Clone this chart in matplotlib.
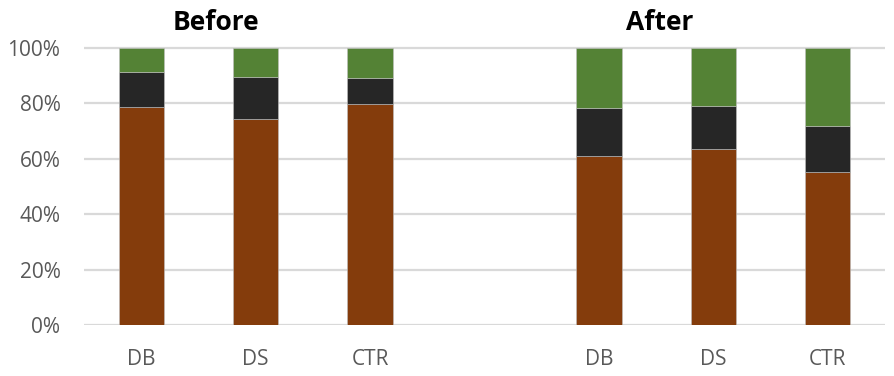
import matplotlib
matplotlib.use("Agg")
import matplotlib.pyplot as plt
import matplotlib.transforms as mtransforms
import numpy as np

categories = ["DB", "DS", "CTR", "", "DB", "DS", "CTR"]
# shares per bar (the empty slot is the gap between groups)
brown = [78.6, 74.3, 79.6, 0, 61.0, 63.4, 55.3]
black = [12.5, 15.3, 9.6, 0, 17.4, 15.7, 16.6]
green = [8.9, 10.4, 10.8, 0, 21.6, 20.9, 28.1]
group_titles = ["Before", "After"]
title_pos = [0.655, 4.53]

COL = ["#843C0C", "#262626", "#548235"]
GRAY = "#595959"

W, H = 895, 376
fig = plt.figure(figsize=(W / 100, H / 100), dpi=100)
pad = 2
ax = fig.add_axes([84 / W, 1 - 325.3 / H, (885 - 84) / W, (325.3 - 47.7 + pad) / H])

x = np.arange(len(categories))
bottom = np.zeros(len(categories))
for vals, c in zip([brown, black, green], COL):
    v = np.array(vals) / 100
    ax.bar(x, v, 0.396, bottom=bottom, color=c, edgecolor="#bfbfbf", linewidth=0.4, zorder=3)
    bottom += v

ax.set_xlim(-0.5, len(categories) - 0.5)
ax.set_ylim(0, 1 + pad / 277.6)
yt = np.linspace(0, 1, 6)
ax.set_yticks(yt)
ax.set_yticklabels([f"{int(t*100)}%" for t in yt])
for t in yt:
    ax.axhline(t, color="#d9d9d9", lw=1.6, zorder=1)
ax.set_xticks(x)
ax.set_xticklabels(categories)
for s in ax.spines.values():
    s.set_visible(False)
ax.tick_params(axis="y", length=0, pad=17, labelsize=15, labelcolor=GRAY)
ax.tick_params(axis="x", length=0, pad=17, labelsize=15, labelcolor=GRAY)
for lab in ax.get_xticklabels() + ax.get_yticklabels():
    lab.set_family("Open Sans")

trans = mtransforms.blended_transform_factory(ax.transData, fig.transFigure)
for t, px in zip(group_titles, title_pos):
    ax.text(px, 1 - 22 / H, t, transform=trans, ha="center", va="center",
            fontsize=19, fontweight="bold", family="Open Sans", color="black")

fig.savefig("out.png", dpi=100)
